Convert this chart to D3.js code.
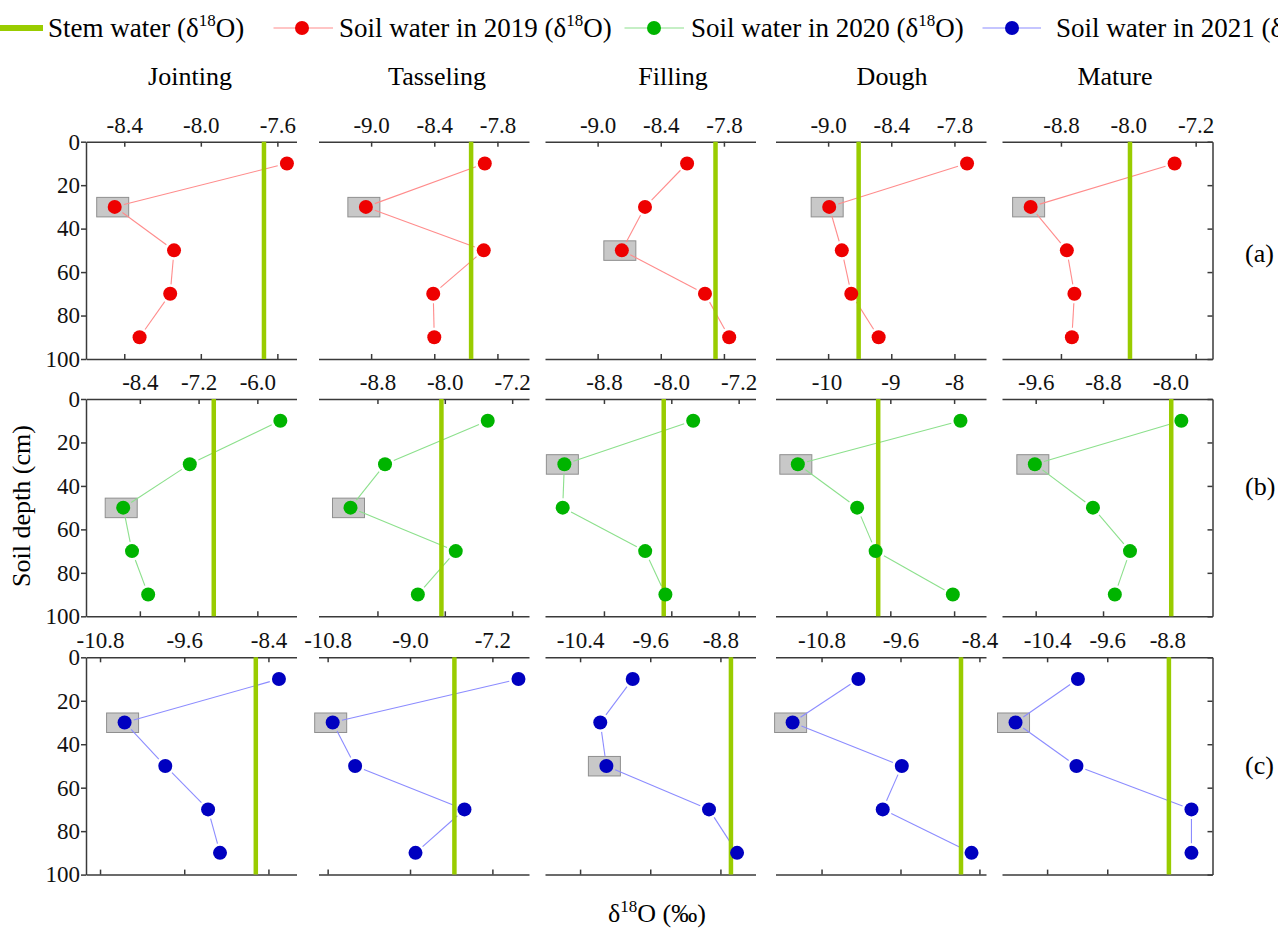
<!DOCTYPE html>
<html>
<head>
<meta charset="utf-8">
<script src="https://cdn.jsdelivr.net/npm/d3@7"></script>
<style>
  body { margin: 0; background: #fff; }
  svg { display: block; font-family: "Liberation Serif", "Times New Roman", serif; }
  .axis path, .axis line { stroke: #3a3a3a; stroke-width: 1.5; }
  .axis text { font-family: "Liberation Serif", "Times New Roman", serif; font-size: 23px; fill: #111; }
</style>
</head>
<body>
<svg id="chart" width="1278" height="930"></svg>
<script>
// Growth stages (columns) and sampling depths
const stages = ["Jointing", "Tasseling", "Filling", "Dough", "Mature"];
const depths = [10, 30, 50, 70, 90];
const depthTicks = [0, 20, 40, 60, 80, 100];

// Soil water d18O per stage, values at depths 10..90 cm
const soil2019 = [
  [-7.55, -8.45, -8.14, -8.16, -8.32],
  [-7.92, -9.05, -7.93, -8.41, -8.40],
  [-8.15, -8.55, -8.77, -7.98, -7.75],
  [-7.68, -8.99, -8.87, -8.78, -8.52],
  [-7.45, -9.16, -8.73, -8.64, -8.67]
];
const soil2020 = [
  [-5.53, -7.38, -8.74, -8.56, -8.23],
  [-7.49, -8.71, -9.12, -7.87, -8.32],
  [-7.74, -9.27, -9.29, -8.31, -8.07],
  [-7.90, -10.45, -9.52, -9.23, -8.02],
  [-7.87, -9.61, -8.92, -8.48, -8.66]
];
const soil2021 = [
  [-8.25, -10.45, -9.87, -9.26, -9.09],
  [-6.63, -10.69, -10.20, -7.81, -8.88],
  [-9.80, -10.17, -10.10, -8.93, -8.61],
  [-10.24, -11.24, -9.58, -9.87, -8.52],
  [-9.99, -10.82, -10.01, -8.48, -8.48]
];

// Stem water d18O per stage
const stem2019 = [-7.67, -8.05, -7.88, -8.71, -7.98];
const stem2020 = [-6.89, -8.04, -8.09, -9.19, -7.99];
const stem2021 = [-8.58, -8.03, -8.68, -8.68, -8.78];

// Depth marked with a grey box in each panel
const boxed2019 = [30, 30, 50, 30, 30];
const boxed2020 = [50, 50, 30, 30, 30];
const boxed2021 = [30, 30, 50, 30, 30];

// x axis ranges and tick labels
const domain2019 = [[-8.6, -7.5], [-9.5, -7.5], [-9.5, -7.5], [-9.5, -7.5], [-9.5, -7.0]];
const domain2020 = [[-9.5, -5.2], [-9.5, -7.0], [-9.5, -7.0], [-10.8, -7.5], [-10.0, -7.5]];
const domain2021 = [[-11.0, -8.0], [-11.0, -6.4], [-10.8, -8.4], [-11.5, -8.3], [-11.0, -8.2]];
const ticks2019 = [["-8.4", "-8.0", "-7.6"], ["-9.0", "-8.4", "-7.8"], ["-9.0", "-8.4", "-7.8"], ["-9.0", "-8.4", "-7.8"], ["-8.8", "-8.0", "-7.2"]];
const ticks2020 = [["-8.4", "-7.2", "-6.0"], ["-8.8", "-8.0", "-7.2"], ["-8.8", "-8.0", "-7.2"], ["-10", "-9", "-8"], ["-9.6", "-8.8", "-8.0"]];
const ticks2021 = [["-10.8", "-9.6", "-8.4"], ["-10.8", "-9.0", "-7.2"], ["-10.4", "-9.6", "-8.8"], ["-10.8", "-9.6", "-8.4"], ["-10.4", "-9.6", "-8.8"]];

const rowLabels = ["(a)", "(b)", "(c)"];

// Rows built from the arrays above
const rows = [
  { year: "2019", soil: soil2019, stem: stem2019, boxed: boxed2019, domain: domain2019, ticks: ticks2019, dot: "#ee0000", line: "#ff8c8c" },
  { year: "2020", soil: soil2020, stem: stem2020, boxed: boxed2020, domain: domain2020, ticks: ticks2020, dot: "#00b400", line: "#8ce08c" },
  { year: "2021", soil: soil2021, stem: stem2021, boxed: boxed2021, domain: domain2021, ticks: ticks2021, dot: "#0000c0", line: "#8c8cff" }
];

const stemColor = "#99cc00";
const svg = d3.select("#chart");

// Layout (Origin-style multi panel)
const panelLeft = [86, 318.5, 545, 775.5, 1002];
const panelW = 210.5;
const rowTop = [141.7, 399, 657.3];
const panelH = 217.3;
const titleX = [190, 437, 673, 892, 1115];
const rowLabelY = [262, 495, 774];
const r = 7;

const y = d3.scaleLinear().domain([0, 100]);

rows.forEach((row, ri) => {
  y.range([rowTop[ri], rowTop[ri] + panelH]);

  stages.forEach((stage, si) => {
    const x0 = panelLeft[si];
    const x = d3.scaleLinear().domain(row.domain[si]).range([x0, x0 + panelW]);
    const g = svg.append("g");
    const tickVals = row.ticks[si].map(Number);

    // Top axis with labels
    g.append("g")
      .attr("class", "axis")
      .attr("transform", `translate(0,${rowTop[ri]})`)
      .call(d3.axisTop(x).tickValues(tickVals).tickFormat((d, i) => row.ticks[si][i])
        .tickSizeInner(-5).tickSizeOuter(0).tickPadding(9));

    // Bottom axis, no labels
    g.append("g")
      .attr("class", "axis")
      .attr("transform", `translate(0,${rowTop[ri] + panelH})`)
      .call(d3.axisBottom(x).tickValues(tickVals).tickFormat("")
        .tickSizeInner(-5).tickSizeOuter(0));

    if (si === 0) {
      g.append("g")
        .attr("class", "axis")
        .attr("transform", `translate(${x0},0)`)
        .call(d3.axisLeft(y).tickValues(depthTicks).tickSizeInner(5).tickSizeOuter(0).tickPadding(1));
    }
    if (si === stages.length - 1) {
      g.append("g")
        .attr("class", "axis")
        .attr("transform", `translate(${x0 + panelW},0)`)
        .call(d3.axisRight(y).tickValues(depthTicks).tickFormat("").tickSizeInner(-5).tickSizeOuter(0));
    }

    const pts = depths.map((d, k) => ({ depth: d, px: x(row.soil[si][k]), py: y(d) }));

    // Grey box behind the marked point
    const bp = pts.find(p => p.depth === row.boxed[si]);
    g.append("rect")
      .attr("x", bp.px - 18)
      .attr("y", bp.py - 9.5)
      .attr("width", 32)
      .attr("height", 19.5)
      .attr("fill", "#c8c8c8")
      .attr("stroke", "#8f8f8f")
      .attr("stroke-width", 1);

    // Connecting lines, with a small gap around the symbols
    const gap = r + 2.5;
    d3.pairs(pts).forEach(([a, b]) => {
      const dx = b.px - a.px, dy = b.py - a.py;
      const len = Math.hypot(dx, dy);
      if (len <= 2 * gap) return;
      const ux = dx / len, uy = dy / len;
      g.append("line")
        .attr("x1", a.px + ux * gap).attr("y1", a.py + uy * gap)
        .attr("x2", b.px - ux * gap).attr("y2", b.py - uy * gap)
        .attr("stroke", row.line)
        .attr("stroke-width", 1.1);
    });

    // Stem water line
    g.append("line")
      .attr("x1", x(row.stem[si])).attr("x2", x(row.stem[si]))
      .attr("y1", y(0)).attr("y2", y(100))
      .attr("stroke", stemColor)
      .attr("stroke-width", 4.5);

    // Soil water points
    g.selectAll("circle")
      .data(pts)
      .enter().append("circle")
      .attr("cx", d => d.px)
      .attr("cy", d => d.py)
      .attr("r", r)
      .attr("fill", row.dot);

    if (ri === 0) {
      svg.append("text")
        .attr("x", titleX[si])
        .attr("y", 85)
        .attr("text-anchor", "middle")
        .style("font-size", "26px")
        .text(stage);
    }
  });

  svg.append("text")
    .attr("x", 1245)
    .attr("y", rowLabelY[ri])
    .style("font-size", "26px")
    .text(rowLabels[ri]);
});

// Axis titles
svg.append("text")
  .attr("transform", "translate(30,506) rotate(-90)")
  .attr("text-anchor", "middle")
  .style("font-size", "26px")
  .text("Soil depth (cm)");

const xt = svg.append("text")
  .attr("x", 657)
  .attr("y", 922)
  .attr("text-anchor", "middle")
  .style("font-size", "26px");
xt.append("tspan").text("δ");
xt.append("tspan").attr("dy", -10).style("font-size", "17px").text("18");
xt.append("tspan").attr("dy", 10).text("O (‰)");

// Legend
const legendFont = "27px";
function legendLabel(xp, name) {
  const t = svg.append("text").attr("x", xp).attr("y", 37).style("font-size", legendFont);
  t.append("tspan").text(name + " (δ");
  t.append("tspan").attr("dy", -11).style("font-size", "17px").text("18");
  t.append("tspan").attr("dy", 11).text("O)");
}

svg.append("line")
  .attr("x1", 0).attr("x2", 43).attr("y1", 28).attr("y2", 28)
  .attr("stroke", stemColor).attr("stroke-width", 6);
legendLabel(48, "Stem water");

const legendPos = [
  { x1: 273.5, x2: 333, cx: 302, tx: 339 },
  { x1: 624.5, x2: 684, cx: 654, tx: 691 },
  { x1: 982.5, x2: 1041, cx: 1012, tx: 1056 }
];
rows.forEach((row, i) => {
  const p = legendPos[i];
  svg.append("line")
    .attr("x1", p.x1).attr("x2", p.x2).attr("y1", 28).attr("y2", 28)
    .attr("stroke", row.line).attr("stroke-width", 1.1);
  svg.append("circle")
    .attr("cx", p.cx).attr("cy", 28).attr("r", r)
    .attr("fill", row.dot);
  legendLabel(p.tx, `Soil water in ${row.year}`);
});
</script>
</body>
</html>
